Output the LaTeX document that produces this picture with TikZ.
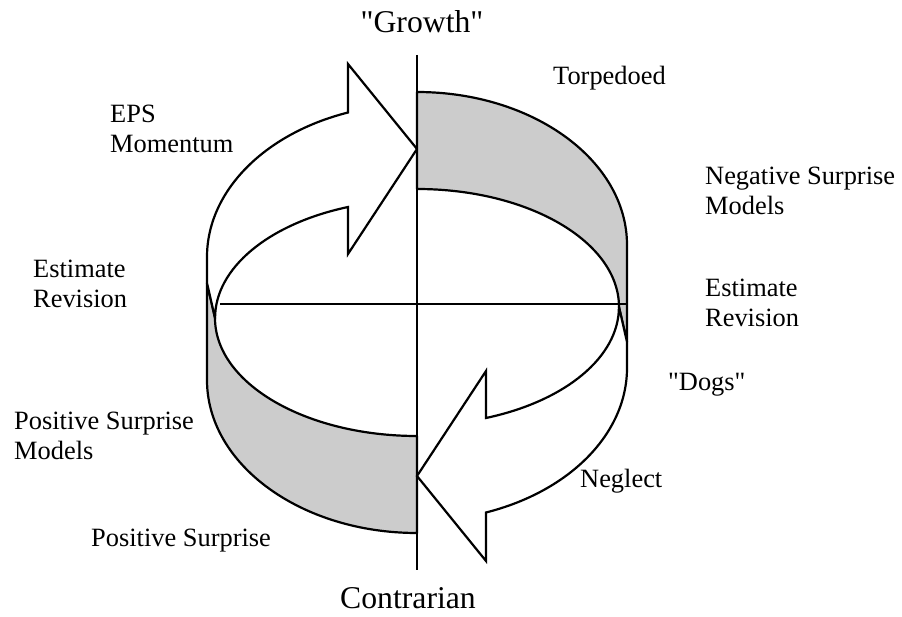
\documentclass[tikz,border=0pt]{standalone}
\usepackage{fontspec}
\newfontfamily\labelfont{Liberation Serif}
\tikzset{
  band/.style={draw, line width=2.2pt, fill=black!20, line join=round},
  bigarrow/.style={draw, line width=2.2pt, fill=white, line join=miter},
  axis/.style={line width=2pt},
  lbl/.style={inner sep=0pt, font=\labelfont\fontsize{26.4}{30}\selectfont, align=left},
  title/.style={inner sep=0pt, font=\labelfont\fontsize{31.7}{36}\selectfont}
}
\begin{document}
\begin{tikzpicture}[x=1pt,y=-1pt]
\useasboundingbox (0,0) rectangle (902,617);

% Define coordinates
\coordinate (C) at (417,312.5); % centre of the ring
\coordinate (T) at (417,55);    % top of the vertical axis
\coordinate (B) at (417,570);   % bottom of the vertical axis
\coordinate (L) at (220,304);   % left end of the horizontal axis
\coordinate (R) at (628,304);   % right end of the horizontal axis

% Draw the two halves of the ring, the second one turned round the centre
\foreach \r in {0,180}{
  \begin{scope}[rotate around={\r:(C)}]
    % shaded band
    \filldraw[band] (207,283) -- (215,318)
      arc[start angle=180, end angle=90, x radius=202, y radius=118]
      -- (417,533)
      arc[start angle=90, end angle=180, x radius=210, y radius=153]
      -- cycle;
    % arrow
    \filldraw[bigarrow] (215,318) -- (207,283) -- (207,257)
      arc[start angle=180, end angle=250.8, x radius=210, y radius=153]
      -- (348,64) -- (417,149) -- (348,254) -- (348,207)
      arc[start angle=250, end angle=180, x radius=202, y radius=118]
      -- cycle;
  \end{scope}
}

% Draw axes
\draw[axis] (T) -- (B);
\draw[axis] (L) -- (R);

% Labels
\node[title, anchor=base] (growth) at (422,33) {"Growth"};
\node[title, anchor=base] (contrarian) at (408,608) {Contrarian};
\node[lbl, anchor=north west] (eps) at (110,105) {EPS\\Momentum};
\node[lbl, anchor=base west] (torpedoed) at (553,85) {Torpedoed};
\node[lbl, anchor=north west] (negmodels) at (705,167) {Negative Surprise\\Models};
\node[lbl, anchor=north west] (revleft) at (33,260) {Estimate\\Revision};
\node[lbl, anchor=north west] (revright) at (705,279) {Estimate\\Revision};
\node[lbl, anchor=base west] (dogs) at (668,390) {"Dogs"};
\node[lbl, anchor=north west] (posmodels) at (14,412) {Positive Surprise\\Models};
\node[lbl, anchor=base west] (neglect) at (580,487) {Neglect};
\node[lbl, anchor=base west] (possurprise) at (91,546) {Positive Surprise};

\end{tikzpicture}
\end{document}
